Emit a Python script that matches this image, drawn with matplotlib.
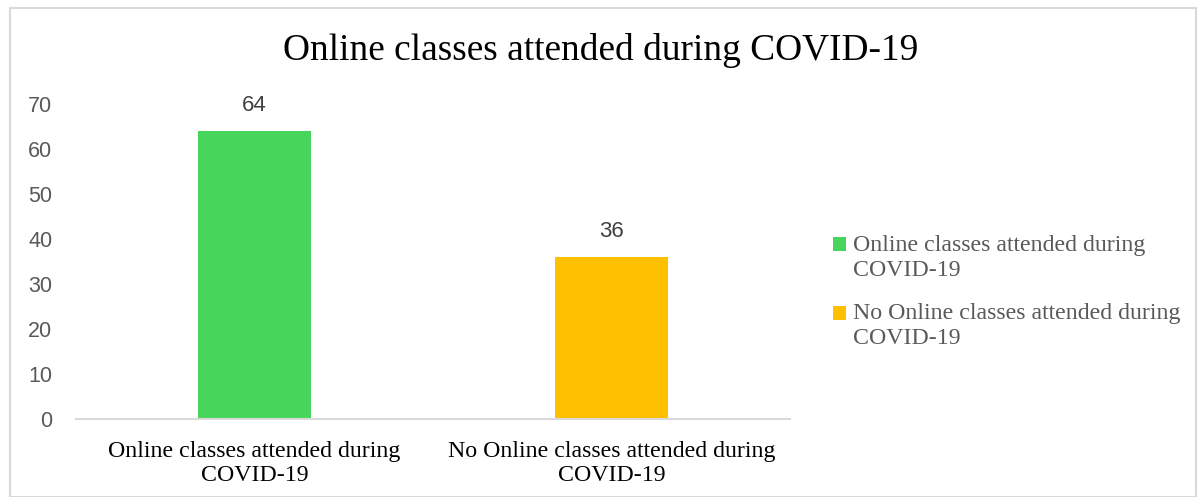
import matplotlib.pyplot as plt
from matplotlib.patches import Rectangle
from matplotlib.legend_handler import HandlerPatch

categories = ['Online classes attended during\nCOVID-19', 'No Online classes attended during\nCOVID-19']
values = [64, 36]
colors = ['#47D55B', '#FFC000']

fig = plt.figure(figsize=(12.02, 4.97), dpi=100)
ax = fig.add_axes([76/1202, 1-419/497, (790-76)/1202, (419-104)/497])

index = range(len(values))
bars = ax.bar(index, values, 0.317, color=colors, label=categories)

ax.set_xlim(-0.5, 1.5)
ax.set_ylim(0, 70)
ax.set_yticks(range(0, 80, 10))
ax.set_xticks(list(index))
ax.set_xticklabels(categories, family='Liberation Serif', fontsize=17.2, color='black', linespacing=1.2)
for lab in ax.get_yticklabels():
    lab.set_family('Liberation Sans')
    lab.set_fontsize(15.5)
    lab.set_color('#595959')
ax.tick_params(axis='both', length=0)
ax.tick_params(axis='y', pad=17)
ax.tick_params(axis='x', pad=16)
for s in ['top', 'right', 'left']:
    ax.spines[s].set_visible(False)
ax.spines['bottom'].set_color('#D9D9D9')
ax.spines['bottom'].set_linewidth(1.5)

for rect, v in zip(bars, values):
    ax.text(rect.get_x() + rect.get_width()/2, v + 3.3, '%d' % v, ha='center', va='bottom',
            family='Liberation Sans', fontsize=16, color='#404040')

fig.text(0.5, 1-50/497, 'Online classes attended during COVID-19', ha='center', va='center',
         family='Liberation Serif', fontsize=26.9, color='black')


# put the square next to the first line of each label
def top_square(legend, orig_handle, xdescent, ydescent, width, height, fontsize):
    return Rectangle((-xdescent, -ydescent + 0.55*fontsize), width, height)


leg = fig.legend(handles=list(bars), labels=categories, loc='center left',
                 bbox_to_anchor=(811/1202, 1-292/497), frameon=False,
                 prop={'family': 'Liberation Serif', 'size': 17.2},
                 handlelength=0.55, handleheight=0.55, handletextpad=0.3, labelspacing=0.95,
                 handler_map={bars.patches[0].__class__: HandlerPatch(patch_func=top_square)})
for t in leg.get_texts():
    t.set_color('#595959')
    t.set_linespacing(1.25)

fig.patches.append(Rectangle((10/1202, 0), 1-16/1202, 1-8/497, transform=fig.transFigure,
                             fill=False, edgecolor='#D9D9D9', linewidth=1.5))

fig.savefig('out.png', dpi=100)
